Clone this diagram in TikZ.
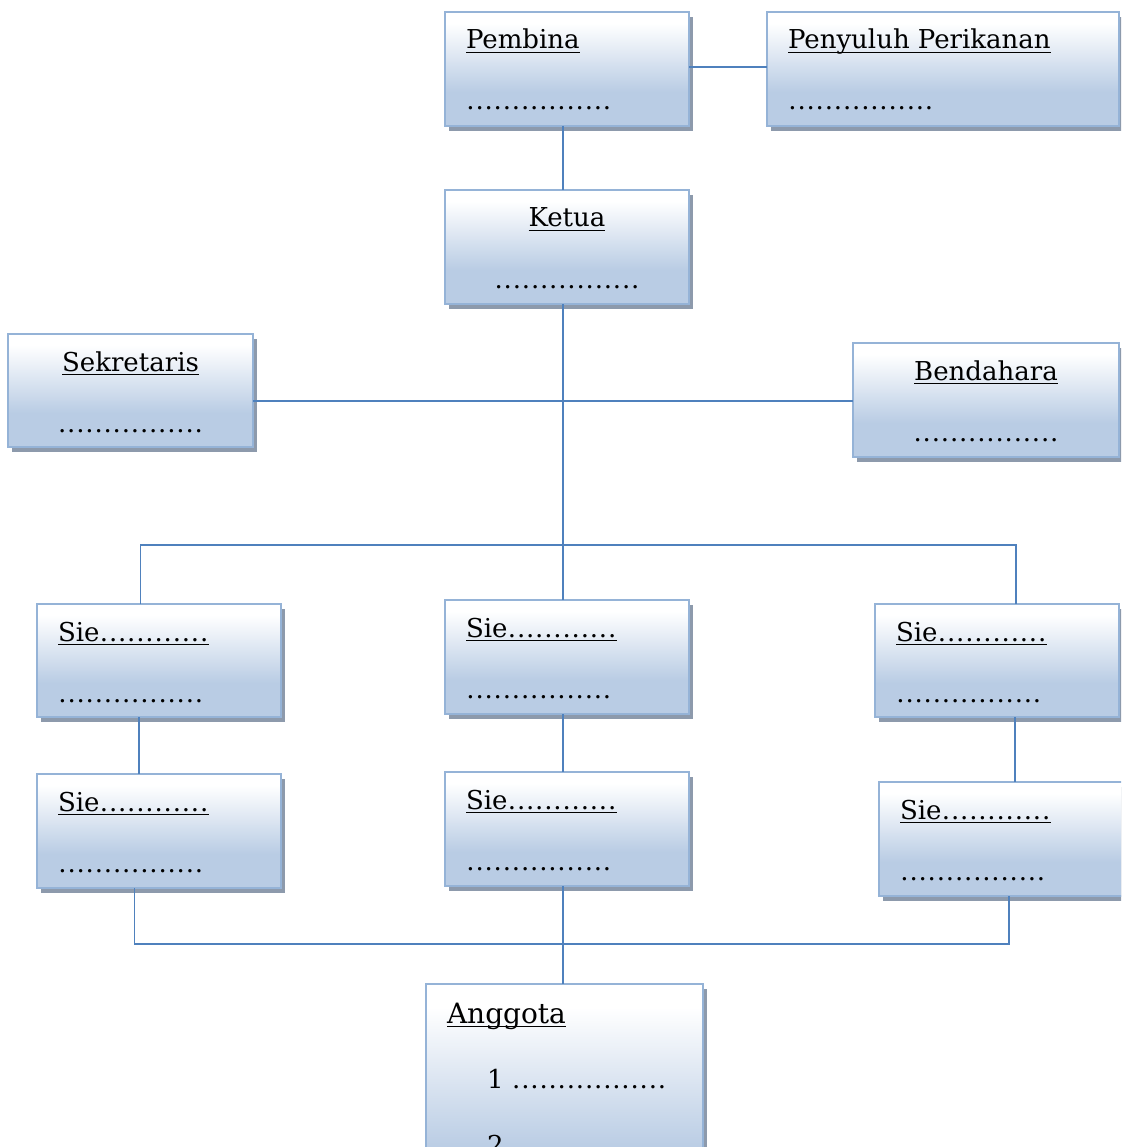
\documentclass[tikz,border=0pt]{standalone}
\usepackage{fontspec}
\setmainfont{DejaVu Serif}
\usetikzlibrary{shadows,calc}
\definecolor{boxblue}{RGB}{185,204,228}
\definecolor{boxedge}{RGB}{149,179,215}
\definecolor{shadowgray}{RGB}{141,154,172}
\definecolor{linkblue}{RGB}{79,129,189}
\pgfdeclareverticalshading{boxshade}{100bp}{color(0bp)=(boxblue); color(40bp)=(boxblue); color(70bp)=(white); color(100bp)=(white)}
\tikzset{
  obox/.style={draw=boxedge, line width=2.4pt, shading=boxshade, inner sep=0pt, outer sep=0pt,
    general shadow={fill=shadowgray, shadow xshift=4pt, shadow yshift=-5pt}},
  ttl/.style={inner sep=0pt, outer sep=0pt, font=\fontsize{26}{30}\selectfont},
  ul/.style={line width=1.6pt, black},
  link/.style={draw=linkblue, line width=1.8pt},
}
\newcommand\dd{\makebox[9.1pt][c]{.}}
\newcommand\dfour{\dd\dd\dd\dd}
\newcommand\dsixteen{\dfour\dfour\dfour\dfour}
\newcommand\dtwelve{\dfour\dfour\dfour}
\newcommand\mkbox[5]{%
  \pgfmathsetmacro\bw{#4-#2}\pgfmathsetmacro\bh{#5-#3}%
  \pgfmathsetmacro\bcx{(#2+#4)/2}\pgfmathsetmacro\bcy{(#3+#5)/2}%
  \node[obox, minimum width=\bw pt, minimum height=\bh pt] (#1) at (\bcx,\bcy) {};}
\newcommand\lbox[7]{%
  \mkbox{#1}{#2}{#3}{#4}{#5}
  \node[ttl, anchor=base west] (#1t) at ($(#1.north west)+(21,37)$) {#6};
  \node[ttl, anchor=base west] (#1d) at ($(#1.north west)+(21,98)$) {#7};
  \draw[ul] ($(#1t.base west)+(0,3.5)$) -- ($(#1t.base east)+(0,3.5)$);}
\newcommand\cbox[7]{%
  \mkbox{#1}{#2}{#3}{#4}{#5}
  \node[ttl, anchor=base] (#1t) at ($(#1.north)+(0,37)$) {#6};
  \node[ttl, anchor=base] (#1d) at ($(#1.north)+(0,98)$) {#7};
  \draw[ul] ($(#1t.base west)+(0,3.5)$) -- ($(#1t.base east)+(0,3.5)$);}
\begin{document}
\begin{tikzpicture}[x=1pt,y=-1pt]
\useasboundingbox (0,0) rectangle (1121,1147);
\fill[white] (0,0) rectangle (1121,1147);
\clip (0,0) rectangle (1121,1147);
% boxes
\lbox{pembina}{445}{12}{689}{126}{Pembina}{\dsixteen}
\lbox{penyuluh}{767}{12}{1119}{126}{Penyuluh Perikanan}{\dsixteen}
\cbox{ketua}{445}{190}{689}{304}{Ketua}{\dsixteen}
\cbox{sekretaris}{8}{334}{253}{447}{Sekretaris}{\dsixteen}
\cbox{bendahara}{853}{343}{1119}{457}{Bendahara}{\dsixteen}
\lbox{sieL1}{37}{604}{281}{717}{Sie\dtwelve}{\dsixteen}
\lbox{sieM1}{445}{600}{689}{714}{Sie\dtwelve}{\dsixteen}
\lbox{sieR1}{875}{604}{1119}{717}{Sie\dtwelve}{\dsixteen}
\lbox{sieL2}{37}{774}{281}{888}{Sie\dtwelve}{\dsixteen}
\lbox{sieM2}{445}{772}{689}{886}{Sie\dtwelve}{\dsixteen}
\lbox{sieR2}{879}{782}{1124}{896}{Sie\dtwelve}{\dsixteen}
\mkbox{anggota}{426}{984}{703}{1220}
\node[ttl, anchor=base west, font=\fontsize{28}{32}\selectfont] (anggotat) at ($(anggota.north west)+(21,39)$) {Anggota};
\draw[ul] ($(anggotat.base west)+(0,3.5)$) -- ($(anggotat.base east)+(0,3.5)$);
\node[ttl, anchor=base west] (ang1) at ($(anggota.north west)+(61,104)$) {1 \dsixteen\dd};
\node[ttl, anchor=base west] (ang2) at ($(anggota.north west)+(61,170)$) {2 \dsixteen\dd};
% connectors
\coordinate (mx) at (563,0);
\coordinate (h0) at (0,67);
\coordinate (h1) at (0,401);
\coordinate (bl) at (140.5,545);
\coordinate (br) at (1016,545);
\coordinate (c1) at (139,0);
\coordinate (c3) at (1015,0);
\coordinate (dl) at (134.5,944);
\coordinate (dr) at (1009,944);
\draw[link] (pembina.east |- h0) -- (penyuluh.west |- h0);
\draw[link] (pembina.south -| mx) -- (ketua.north -| mx);
\draw[link] (ketua.south -| mx) -- (sieM1.north -| mx);
\draw[link] (sekretaris.east |- h1) -- (bendahara.west |- h1);
\draw[link] (sieL1.north -| bl) -- (bl) -- (br) -- (sieR1.north -| br);
\draw[link] (sieL1.south -| c1) -- (sieL2.north -| c1);
\draw[link] (sieM1.south -| mx) -- (sieM2.north -| mx);
\draw[link] (sieR1.south -| c3) -- (sieR2.north -| c3);
\draw[link] (sieL2.south -| dl) -- (dl) -- (dr) -- (sieR2.south -| dr);
\draw[link] (sieM2.south -| mx) -- (anggota.north -| mx);
\end{tikzpicture}
\end{document}
